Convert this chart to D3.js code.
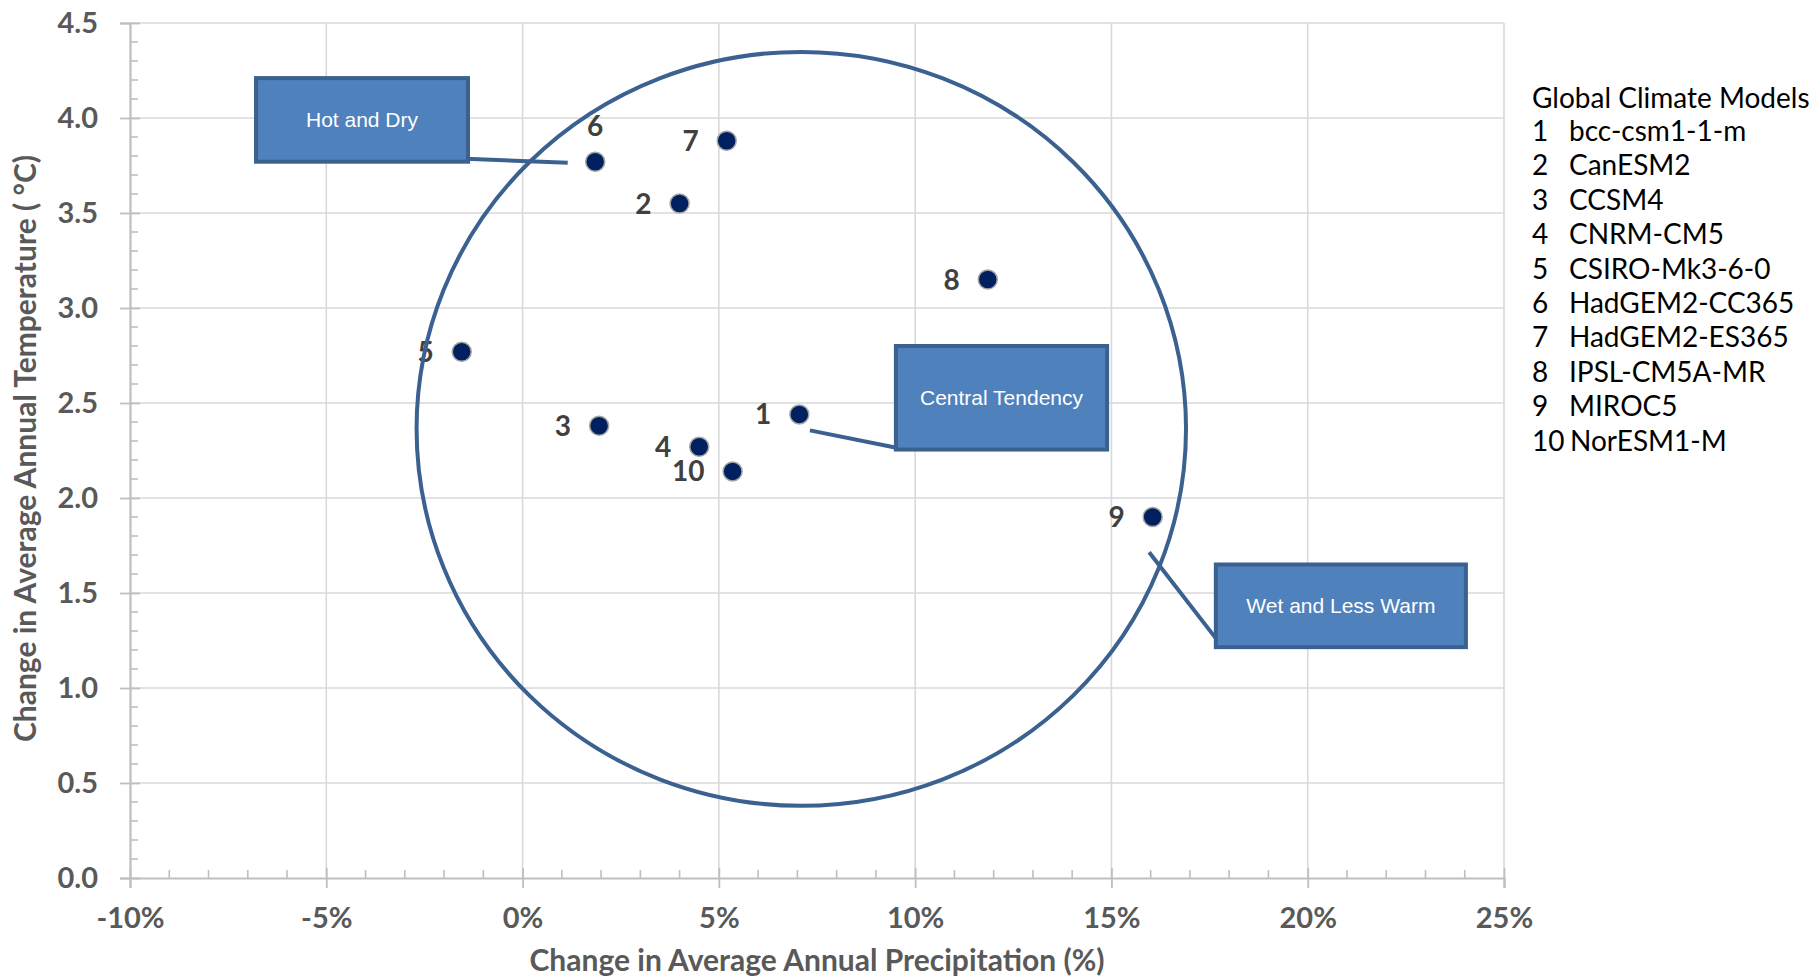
<!DOCTYPE html>
<html>
<head>
<meta charset="utf-8">
<script src="https://cdn.jsdelivr.net/npm/d3@7"></script>
<style>
  body { margin: 0; background: #fff; }
  svg text { font-family: Lato, "Open Sans", sans-serif; }
</style>
</head>
<body>
<div id="chart"></div>
<script>
// model ids, names and the projected changes
var ids = [1, 2, 3, 4, 5, 6, 7, 8, 9, 10];
var models = ["bcc-csm1-1-m", "CanESM2", "CCSM4", "CNRM-CM5", "CSIRO-Mk3-6-0",
              "HadGEM2-CC365", "HadGEM2-ES365", "IPSL-CM5A-MR", "MIROC5", "NorESM1-M"];
var precip = [7.05, 4.0, 1.95, 4.5, -1.55, 1.85, 5.2, 11.85, 16.05, 5.35];   // %
var temp = [2.44, 3.55, 2.38, 2.27, 2.77, 3.77, 3.88, 3.15, 1.90, 2.14];      // deg C
var labelSide = ["left", "left", "left", "left", "left", "above", "left", "left", "left", "left"];

var xTicks = [-10, -5, 0, 5, 10, 15, 20, 25];
var yTicks = [0, 0.5, 1, 1.5, 2, 2.5, 3, 3.5, 4, 4.5];

// ellipse round the cluster (data units)
var ringCenter = [7.1, 2.364];
var ringRadius = [9.8, 1.984];

// callout boxes, in data units: [x0, x1, y0, y1], leader [x1, y1, x2, y2]
var callouts = [
  { text: "Hot and Dry", box: [-6.79, -1.39, 4.21, 3.77], lead: [-1.45, 3.785, 1.15, 3.764] },
  { text: "Central Tendency", box: [9.51, 14.89, 2.80, 2.255], lead: [7.32, 2.356, 9.49, 2.266] },
  { text: "Wet and Less Warm", box: [17.66, 24.03, 1.65, 1.215], lead: [15.96, 1.715, 17.76, 1.235] }
];

(function() {
  var W = 1820, H = 979;
  var mLeft = 130, mRight = 1504, mTop = 23, mBottom = 878;

  var svg = d3.select("#chart").append("svg")
    .attr("width", W)
    .attr("height", H);

  var x = d3.scaleLinear().domain([-10, 25]).range([mLeft, mRight]);
  var y = d3.scaleLinear().domain([0, 4.5]).range([mBottom, mTop]);

  var gridColor = "#d9d9d9";
  var axisColor = "#bfbfbf";
  var shapeLine = "#3b6191";

  // gridlines
  svg.append("g").selectAll("line")
    .data(yTicks.filter(function(d) { return d > 0; }))
    .enter().append("line")
    .attr("x1", mLeft).attr("x2", mRight)
    .attr("y1", function(d) { return y(d); })
    .attr("y2", function(d) { return y(d); })
    .attr("stroke", gridColor).attr("stroke-width", 1.6);

  svg.append("g").selectAll("line")
    .data(xTicks.filter(function(d) { return d > -10; }))
    .enter().append("line")
    .attr("y1", mTop).attr("y2", mBottom)
    .attr("x1", function(d) { return x(d); })
    .attr("x2", function(d) { return x(d); })
    .attr("stroke", gridColor).attr("stroke-width", 1.6);

  // minor ticks (inside the plot)
  svg.append("g").selectAll("line")
    .data(d3.range(1, 45).filter(function(i) { return i % 5 !== 0; }).map(function(i) { return i / 10; }))
    .enter().append("line")
    .attr("x1", mLeft).attr("x2", mLeft + 8)
    .attr("y1", function(d) { return y(d); })
    .attr("y2", function(d) { return y(d); })
    .attr("stroke", axisColor).attr("stroke-width", 1.6);

  svg.append("g").selectAll("line")
    .data(d3.range(-9, 25).filter(function(d) { return d % 5 !== 0; }))
    .enter().append("line")
    .attr("y1", mBottom).attr("y2", mBottom - 8)
    .attr("x1", function(d) { return x(d); })
    .attr("x2", function(d) { return x(d); })
    .attr("stroke", axisColor).attr("stroke-width", 1.6);

  // axes
  var yAxis = svg.append("g")
    .attr("transform", "translate(" + mLeft + ",0)")
    .call(d3.axisLeft(y).tickValues(yTicks).tickFormat(d3.format(".1f")).tickSize(10).tickPadding(22));

  var xAxis = svg.append("g")
    .attr("transform", "translate(0," + mBottom + ")")
    .call(d3.axisBottom(x).tickValues(xTicks).tickFormat(function(d) { return d + "%"; }).tickSize(10).tickPadding(19));

  [yAxis, xAxis].forEach(function(g) {
    g.select(".domain").attr("stroke", axisColor).attr("stroke-width", 2.2);
    g.selectAll(".tick line").attr("stroke", axisColor).attr("stroke-width", 1.8);
    g.selectAll(".tick text")
      .attr("fill", "#595959")
      .style("font-family", "Lato, sans-serif")
      .style("font-size", "29px")
      .style("font-weight", "bold");
  });
  // major ticks cross the axis line
  yAxis.selectAll(".tick line").attr("x1", 10);
  xAxis.selectAll(".tick line").attr("y1", -10);

  // axis titles
  svg.append("text")
    .attr("x", (mLeft + mRight) / 2)
    .attr("y", 971)
    .attr("text-anchor", "middle")
    .attr("fill", "#595959")
    .style("font-size", "30px")
    .style("font-weight", "bold")
    .text("Change in Average Annual Precipitation (%)");

  svg.append("text")
    .attr("transform", "translate(36," + ((mTop + mBottom) / 2 - 2) + ") rotate(-90)")
    .attr("text-anchor", "middle")
    .attr("fill", "#595959")
    .style("font-size", "30px")
    .style("font-weight", "bold")
    .text("Change in Average Annual Temperature ( \u00b0C)");

  // point labels (drawn under the ring, as in the source)
  svg.append("g").selectAll("text")
    .data(ids)
    .enter().append("text")
    .attr("x", function(d, i) { return labelSide[i] === "above" ? x(precip[i]) : x(precip[i]) - 28; })
    .attr("y", function(d, i) { return labelSide[i] === "above" ? y(temp[i]) - 36 : y(temp[i]); })
    .attr("dy", "0.36em")
    .attr("text-anchor", function(d, i) { return labelSide[i] === "above" ? "middle" : "end"; })
    .attr("fill", "#404040")
    .style("font-size", "28px")
    .style("font-weight", "bold")
    .text(function(d) { return d; });

  // ring
  svg.append("ellipse")
    .attr("cx", x(ringCenter[0]))
    .attr("cy", y(ringCenter[1]))
    .attr("rx", x(ringCenter[0] + ringRadius[0]) - x(ringCenter[0]))
    .attr("ry", y(ringCenter[1]) - y(ringCenter[1] + ringRadius[1]))
    .attr("fill", "none")
    .attr("stroke", shapeLine)
    .attr("stroke-width", 4);

  // points
  svg.append("g").selectAll("circle")
    .data(ids)
    .enter().append("circle")
    .attr("cx", function(d, i) { return x(precip[i]); })
    .attr("cy", function(d, i) { return y(temp[i]); })
    .attr("r", 9.5)
    .attr("fill", "#002060")
    .attr("stroke", "#a6a6a6")
    .attr("stroke-width", 1.5);

  // callouts
  var co = svg.append("g").selectAll("g")
    .data(callouts)
    .enter().append("g");

  co.append("line")
    .attr("x1", function(d) { return x(d.lead[0]); })
    .attr("y1", function(d) { return y(d.lead[1]); })
    .attr("x2", function(d) { return x(d.lead[2]); })
    .attr("y2", function(d) { return y(d.lead[3]); })
    .attr("stroke", shapeLine)
    .attr("stroke-width", 4);

  co.append("rect")
    .attr("x", function(d) { return x(d.box[0]); })
    .attr("y", function(d) { return y(d.box[2]); })
    .attr("width", function(d) { return x(d.box[1]) - x(d.box[0]); })
    .attr("height", function(d) { return y(d.box[3]) - y(d.box[2]); })
    .attr("fill", "#4f81bd")
    .attr("stroke", shapeLine)
    .attr("stroke-width", 4);

  co.append("text")
    .attr("x", function(d) { return (x(d.box[0]) + x(d.box[1])) / 2; })
    .attr("y", function(d) { return (y(d.box[2]) + y(d.box[3])) / 2; })
    .attr("dy", "0.35em")
    .attr("text-anchor", "middle")
    .attr("fill", "#ffffff")
    .style("font-family", "'Liberation Sans', Arial, sans-serif")
    .style("font-size", "21px")
    .text(function(d) { return d.text; });

  // legend list
  var legend = svg.append("g").attr("transform", "translate(1532,0)");

  legend.append("text")
    .attr("x", 0).attr("y", 108)
    .attr("fill", "#000")
    .style("font-size", "28px")
    .text("Global Climate Models");

  var rows = legend.selectAll("g.row")
    .data(ids)
    .enter().append("g").attr("class", "row");

  rows.append("text")
    .attr("x", 0)
    .attr("y", function(d, i) { return 141 + i * 34.4; })
    .attr("fill", "#000")
    .style("font-size", "28px")
    .text(function(d) { return d; });

  rows.append("text")
    .attr("x", function(d) { return d < 10 ? 37 : 38; })
    .attr("y", function(d, i) { return 141 + i * 34.4; })
    .attr("fill", "#000")
    .style("font-size", "28px")
    .text(function(d, i) { return models[i]; });
})();
</script>
</body>
</html>
